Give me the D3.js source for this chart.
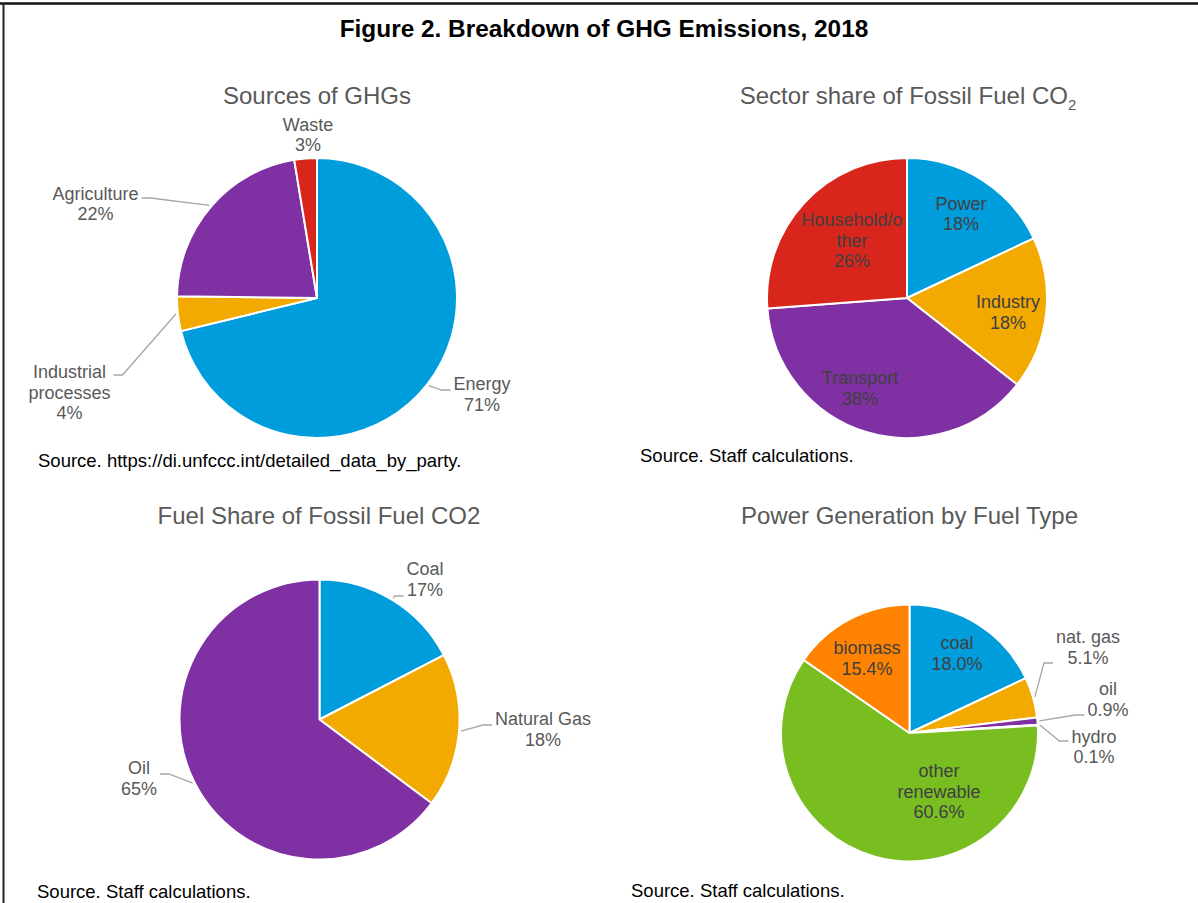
<!DOCTYPE html>
<html>
<head>
<meta charset="utf-8">
<script src="https://cdn.jsdelivr.net/npm/d3@7"></script>
<style>
  body { margin: 0; background: #fff; }
  text { font-family: "Liberation Sans", Arial, sans-serif; }
</style>
</head>
<body>
<script>
// data
const ghgSources = ["Energy", "Industrial processes", "Agriculture", "Waste"];
const ghgShares = [71.2, 4.0, 22.2, 2.6];

const sectorNames = ["Power", "Industry", "Transport", "Household/other"];
const sectorShares = [18.0, 17.6, 38.2, 26.2];

const fuelNames = ["Coal", "Natural Gas", "Oil"];
const fuelShares = [17.4, 17.8, 64.8];

const genNames = ["coal", "nat. gas", "oil", "hydro", "other renewable", "biomass"];
const genShares = [18.0, 5.1, 0.9, 0.1, 60.6, 15.4];

const blue = "#009ddc", amber = "#f2a900", purple = "#7f30a3", red = "#d9261c",
      green = "#78be20", orange = "#ff8200", navy = "#1f4e9a";

const svg = d3.select("body").append("svg")
  .attr("width", 1198)
  .attr("height", 903);

// frame
svg.append("line").attr("x1", 0).attr("x2", 1198).attr("y1", 3.5).attr("y2", 3.5)
  .attr("stroke", "#111").attr("stroke-width", 2.5);
svg.append("line").attr("x1", 3.5).attr("x2", 3.5).attr("y1", 3).attr("y2", 903)
  .attr("stroke", "#222").attr("stroke-width", 2);

svg.append("text")
  .attr("x", 604).attr("y", 37)
  .attr("text-anchor", "middle")
  .attr("font-size", 24.4).attr("font-weight", "bold")
  .attr("fill", "#000")
  .text("Figure 2. Breakdown of GHG Emissions, 2018");

const whole = v => Math.round(v) + "%";
const oneDec = v => d3.format(".1f")(v) + "%";

const charts = [
  {
    cx: 317, cy: 298, r: 140, title: ["Sources of GHGs"], tx: 317, ty: 95,
    source: "Source. https://di.unfccc.int/detailed_data_by_party.", sx: 38, sy: 460,
    names: ghgSources, values: ghgShares, colors: [blue, amber, purple, red], fmt: whole,
    labels: [
      { pos: [165, 96], hook: -4 },
      { pos: [-247.5, 94], hook: -17, wrap: ["Industrial", "processes"] },
      { pos: [-221.5, -94.5], hook: -5.5 },
      { pos: [-9, -163.5] }
    ]
  },
  {
    cx: 907, cy: 298, r: 140, title: ["Sector share of Fossil Fuel CO", "2"], tx: 908, ty: 95,
    source: "Source. Staff calculations.", sx: 640, sy: 455,
    names: sectorNames, values: sectorShares, colors: [blue, amber, purple, red], fmt: whole,
    labels: [
      { pos: [54, -84.5], inside: true },
      { pos: [101, 14], inside: true },
      { pos: [-47, 90], inside: true },
      { pos: [-55, -58], inside: true, wrap: ["Household/o", "ther"] }
    ]
  },
  {
    cx: 319.5, cy: 719.5, r: 140, title: ["Fuel Share of Fossil Fuel CO2"], tx: 319, ty: 515,
    source: "Source. Staff calculations.", sx: 37, sy: 891,
    names: fuelNames, values: fuelShares, colors: [blue, amber, purple], fmt: whole,
    labels: [
      { pos: [105.5, -140.5], hook: 17 },
      { pos: [223.5, 9.5], hook: -4 },
      { pos: [-180.5, 58.5], hook: -4 }
    ]
  },
  {
    cx: 909.5, cy: 733, r: 128.5, title: ["Power Generation by Fuel Type"], tx: 909.5, ty: 515,
    source: "Source. Staff calculations.", sx: 631, sy: 890,
    names: genNames, values: genShares, colors: [blue, amber, purple, navy, green, orange], fmt: oneDec,
    labels: [
      { pos: [47.5, -80], inside: true },
      { pos: [178.5, -86], hook: 16 },
      { pos: [198.5, -34], hook: 16 },
      { pos: [184.5, 13.5], hook: -5.5 },
      { pos: [29.5, 58], inside: true, wrap: ["other", "renewable"] },
      { pos: [-42.5, -75], inside: true }
    ]
  }
];

function drawPie(cfg) {
  const t = svg.append("text")
    .attr("x", cfg.tx).attr("y", cfg.ty + 8.5)
    .attr("text-anchor", "middle")
    .attr("font-size", 24)
    .attr("fill", "#595959");
  t.append("tspan").text(cfg.title[0]);
  if (cfg.title[1]) t.append("tspan").attr("font-size", 15).attr("dy", 6).text(cfg.title[1]);

  svg.append("text")
    .attr("x", cfg.sx).attr("y", cfg.sy + 6.5)
    .attr("font-size", 18.5)
    .attr("fill", "#000")
    .text(cfg.source);

  const g = svg.append("g").attr("transform", `translate(${cfg.cx},${cfg.cy})`);

  const pie = d3.pie().sort(null).value(d => d.value);
  const arcs = pie(cfg.names.map((n, i) => ({ name: n, value: cfg.values[i] })));
  const arc = d3.arc().innerRadius(0).outerRadius(cfg.r);

  g.selectAll("path.slice")
    .data(arcs)
    .join("path")
    .attr("class", "slice")
    .attr("d", arc)
    .attr("fill", (d, i) => cfg.colors[i])
    .attr("stroke", "#fff")
    .attr("stroke-width", 2)
    .attr("stroke-linejoin", "round");

  const lh = 20.5;
  arcs.forEach((d, i) => {
    const L = cfg.labels[i];
    const lines = (L.wrap || [d.data.name]).concat(cfg.fmt(d.data.value));
    const txt = g.append("text")
      .attr("text-anchor", "middle")
      .attr("font-size", 18)
      .attr("fill", L.inside ? "#404040" : "#595959");
    const y0 = L.pos[1] - (lines.length - 1) * lh / 2;
    lines.forEach((s, k) => {
      txt.append("tspan").attr("x", L.pos[0]).attr("y", y0 + k * lh + 6.5).text(s);
    });

    if (L.hook !== undefined) {
      const bb = txt.node().getBBox();
      const mid = (d.startAngle + d.endAngle) / 2;
      const ex = Math.sin(mid) * (cfg.r + 2), ey = -Math.cos(mid) * (cfg.r + 2);
      const toRight = L.pos[0] > ex;
      const hy = L.pos[1] + L.hook;
      const endX = toRight ? bb.x - 3 : bb.x + bb.width + 3;
      const elbowX = toRight ? endX - 9 : endX + 9;
      g.append("path")
        .attr("d", d3.line()([[ex, ey], [elbowX, hy], [endX, hy]]))
        .attr("fill", "none")
        .attr("stroke", "#a6a6a6")
        .attr("stroke-width", 1.3);
    }
  });
}

charts.forEach(drawPie);
</script>
</body>
</html>
